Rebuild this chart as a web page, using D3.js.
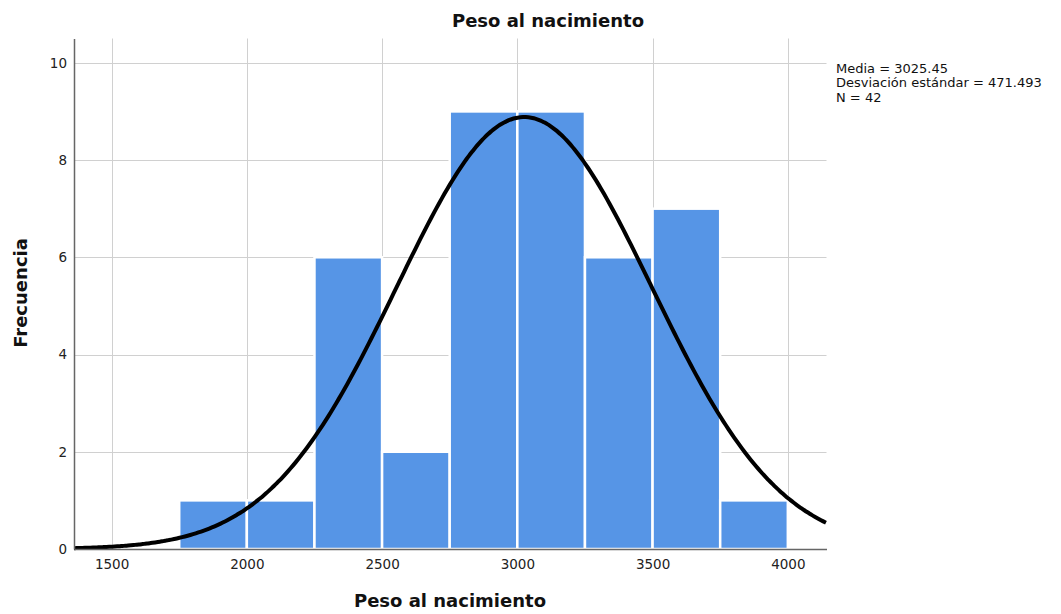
<!DOCTYPE html>
<html>
<head>
<meta charset="utf-8">
<script src="https://cdn.jsdelivr.net/npm/d3@7"></script>
<style>
  body { margin: 0; background: #fff; }
  svg { font-family: "DejaVu Sans", sans-serif; }
  .grid line { stroke: #d0d0d0; stroke-width: 1; }
  .tick text { font-family: "DejaVu Sans", sans-serif; font-size: 13.5px; fill: #222; }
</style>
</head>
<body>
<svg id="hist" width="1061" height="614"></svg>
<script>
// histogram bins (lower edge) and counts
const binStarts = [1750, 2000, 2250, 2500, 2750, 3000, 3250, 3500, 3750]
const counts = [1, 1, 6, 2, 9, 9, 6, 7, 1]
const binWidth = 250
const xTicks = [1500, 2000, 2500, 3000, 3500, 4000]
const yTicks = [0, 2, 4, 6, 8, 10]
const stats = { mean: 3025.45, sd: 471.493, n: 42 }
const legendLines = ['Media = 3025.45', 'Desviación estándar = 471.493', 'N = 42']

let padLeft = 74, padRight = 826.5, padTop = 38.5, padBottom = 549

let svg = d3.select('#hist')
let xScale = d3.scaleLinear().domain([1361, 4143]).range([padLeft, padRight])
let yScale = d3.scaleLinear().domain([0, 10.5]).range([padBottom, padTop])

// grid
let grid = svg.append('g').attr('class', 'grid')
grid.selectAll('.gx').data(xTicks).join('line').attr('class', 'gx')
    .attr('x1', d => Math.round(xScale(d)) + 0.5).attr('x2', d => Math.round(xScale(d)) + 0.5)
    .attr('y1', padTop).attr('y2', padBottom)
grid.selectAll('.gy').data(yTicks.filter(d => d > 0)).join('line').attr('class', 'gy')
    .attr('x1', padLeft).attr('x2', padRight)
    .attr('y1', d => Math.round(yScale(d)) + 0.5).attr('y2', d => Math.round(yScale(d)) + 0.5)

// bars
let bars = binStarts.map((s, i) => ({ x0: s, x1: s + binWidth, count: counts[i] }))
svg.append('g').selectAll('rect').data(bars).join('rect')
    .attr('x', d => xScale(d.x0))
    .attr('y', d => yScale(d.count))
    .attr('width', d => xScale(d.x1) - xScale(d.x0))
    .attr('height', d => yScale(0) - yScale(d.count))
    .attr('fill', '#5695e6')
    .attr('stroke', '#fff').attr('stroke-width', 2.5)

// normal curve fitted from the shown statistics
let scaleFactor = stats.n * binWidth
let curveX = d3.range(1361, 4144, 10)
let curve = curveX.map(x => ({
    x: x,
    y: scaleFactor * Math.exp(-0.5 * Math.pow((x - stats.mean) / stats.sd, 2)) / (stats.sd * Math.sqrt(2 * Math.PI))
}))
svg.append('path').datum(curve)
    .attr('fill', 'none').attr('stroke', '#000').attr('stroke-width', 4)
    .attr('d', d3.line().x(d => xScale(d.x)).y(d => yScale(d.y)).curve(d3.curveBasis))

// axes
let xAxis = d3.axisBottom(xScale).tickValues(xTicks).tickSize(0).tickPadding(10).tickFormat(d3.format('d'))
svg.append('g').attr('transform', 'translate(0,' + padBottom + ')').call(xAxis)
    .attr('font-family', null)
    .call(g => g.select('.domain').attr('stroke', '#666').attr('stroke-width', 1.5))
let yAxis = d3.axisLeft(yScale).tickValues(yTicks).tickSize(0).tickPadding(7)
svg.append('g').attr('transform', 'translate(' + padLeft + ',0)').call(yAxis)
    .attr('font-family', null)
    .call(g => g.select('.domain').attr('stroke', '#666').attr('stroke-width', 1.5))

// titles
svg.append('text').text('Peso al nacimiento').attr('x', 548).attr('y', 27)
    .attr('text-anchor', 'middle').attr('font-weight', 'bold').attr('font-size', 18).attr('fill', '#111')
svg.append('text').text('Peso al nacimiento').attr('x', 450).attr('y', 607)
    .attr('text-anchor', 'middle').attr('font-weight', 'bold').attr('font-size', 18).attr('fill', '#111')
svg.append('text').text('Frecuencia').attr('transform', 'translate(27,293) rotate(-90)')
    .attr('text-anchor', 'middle').attr('font-weight', 'bold').attr('font-size', 18).attr('fill', '#111')

// stats legend
svg.append('g').selectAll('text').data(legendLines).join('text')
    .text(d => d).attr('x', 836).attr('y', (d, i) => 72.5 + i * 14.5)
    .attr('font-size', 13).attr('fill', '#111')
</script>
</body>
</html>
